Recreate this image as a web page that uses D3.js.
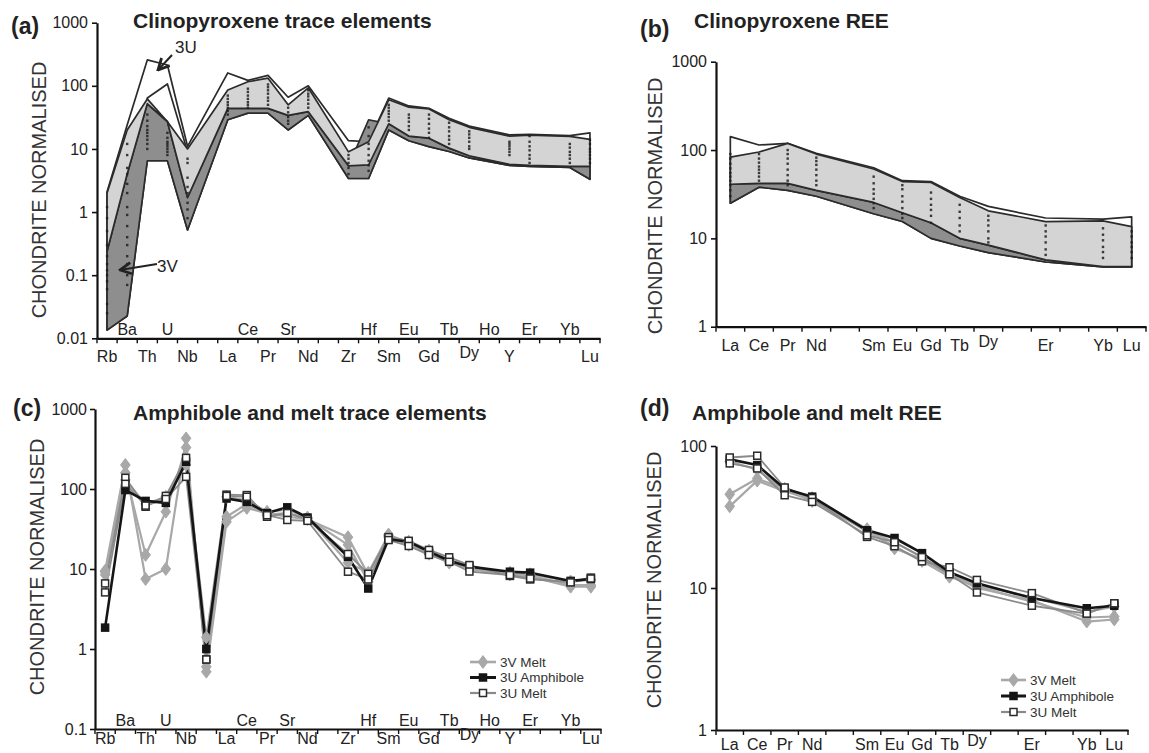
<!DOCTYPE html>
<html><head><meta charset="utf-8">
<script src="https://cdn.jsdelivr.net/npm/d3@7"></script>
<style>
body{margin:0;background:#fff}
svg{display:block}
text{font-family:"Liberation Sans",Arial,Helvetica,sans-serif}
</style>
</head><body>
<svg id="chart" width="1149" height="753"></svg>
<script>
// ---------- categories & tick labels ----------
const teCats = ["Rb","Ba","Th","U","Nb","Ta","La","Ce","Pr","Sr","Nd","P","Zr","Hf","Sm","Eu","Gd","Tb","Dy","Ho","Y","Er","Tm","Yb","Lu"];
const teLow  = ["Rb","Th","Nb","La","Pr","Nd","Zr","Sm","Gd","Dy","Y","Lu"];
const teHigh = ["Ba","U","Ce","Sr","Hf","Eu","Tb","Ho","Er","Yb"];
const reeCats = ["La","Ce","Pr","Nd","Pm","Sm","Eu","Gd","Tb","Dy","Ho","Er","Tm","Yb","Lu"];
const reeLabels = ["La","Ce","Pr","Nd","Sm","Eu","Gd","Tb","Dy","Er","Yb","Lu"];
const yTicksA = [0.01,0.1,1,10,100,1000], yLabA = ["0.01","0.1","1","10","100","1000"];
const yTicksB = [1,10,100,1000], yLabB = ["1","10","100","1000"];
const yTicksC = [0.1,1,10,100,1000], yLabC = ["0.1","1","10","100","1000"];
const yTicksD = [1,10,100], yLabD = ["1","10","100"];

// ---------- panel (a): clinopyroxene trace element envelopes ----------
const aEls      = ["Rb","Ba","Th","U","Nb","La","Ce","Pr","Sr","Nd","Zr","Hf","Sm","Eu","Gd","Tb","Dy","Y","Er","Yb","Lu"];
const aWhiteTop = [2.1, 24, 257, 214, 11, 160, 122, 146, 66, 100, 13.5, 13, 64, 48, 44, 30.5, 23, 16.7, 17, 16.3, 18];
const aLightTop = [2.0, 20, 62, 27, 10, 86, 116, 132, 50, 93, 9, 13, 60, 46, 43, 29, 22, 16, 16.5, 15.8, 14.2];
const aLightBot = [0.24, 4, 52, 27, 1.7, 44, 44, 44, 34, 39, 5.4, 5.6, 25, 16, 14.8, 10.3, 7.8, 5.7, 5.5, 5.3, 5.3];
const aDarkTop  = [0.24, 4, 52, 27, 1.7, 44, 44, 44, 34, 39, 5.4, 29, 25, 16, 14.8, 10.3, 7.8, 5.7, 5.5, 5.3, 5.3];
const aDarkBot  = [0.0135, 0.0225, 6.5, 6.5, 0.52, 29, 37, 37, 20, 34, 3.4, 3.4, 20, 13.5, 10.9, 9.1, 7.2, 5.5, 5.3, 5.1, 3.3];
const aInnerEls = ["Th","U","Nb"];
const aInnerTop = [64, 107, 9];
const aInnerBot = [52, 27, 1.7];
const aDots = [
  [0.025,0.035,0.06,0.08,0.1,0.12,0.15,0.2,0.3,0.5,0.8,1.2],
  [0.07,0.1,0.15,0.2,0.3,0.4,0.6,0.9,1.2,2,2.8,4,5,8,12],
  [10,12,14,16,18,20,23,28,35],
  [8,9,10,11,12,13,15,18],
  [0.8,1.1,1.4,2,2.5,3.5,6,7],
  [35,40,45,50,55,62,70],
  [45,50,55,62,70,80,90],
  [50,58,65,75,85,95,105],
  [25,28,32,38,45],
  [45,52,60,68,75,85],
  [4,5,6,7,8],
  [4.5,5.5,6.5,8,10,12,16,22],
  [28,32,36,40,45,50],
  [20,23,27,31,35],
  [15,18,21,25,30,35],
  [12,14,16,19,22,26],
  [10,11,13,15,17,19],
  [8,9,10,11,12,13],
  [6,7,8,9.5,11,13,16],
  [6,7,8,9,10.5,12],
  [6,7,8,9,10,12,14]
];

// ---------- panel (b): clinopyroxene REE envelopes ----------
const bEls      = ["La","Ce","Pr","Nd","Sm","Eu","Gd","Tb","Dy","Er","Yb","Lu"];
const bWhiteTop = [142, 114, 119, 92, 63, 45, 44, 30, 23, 17, 16.5, 17.5];
const bLightTop = [83, 95, 119, 90, 61, 44, 43, 29, 20.5, 15.5, 15.8, 13.6];
const bLightBot = [41, 42, 42, 35, 25.5, 19.5, 15, 10, 8.4, 5.7, 4.8, 4.8];
const bDarkBot  = [25, 38, 35, 30, 19, 15.5, 10, 8.2, 6.9, 5.4, 4.75, 4.75];
const bDots = [
  [30,35,40,45,50,55,62,70,80,90],
  [45,50,55,60,65,72,80,90],
  [40,45,52,60,70,80,90,100],
  [40,45,52,60,68,75,82],
  [22,25,28,32,36,42,50],
  [17,19,22,26,30,36,40],
  [15,18,21,24,28,33],
  [12,14,17,20,24],
  [9,10,12,14,16,18],
  [6.5,7.5,9,10.5,12,14],
  [6,7,8,9.5,11,13],
  [6,7,8,9,10.5,12]
];

// ---------- panel (c): amphibole & melt trace elements ----------
const cEls = ["Rb","Ba","Th","U","Nb","Ta","La","Ce","Pr","Sr","Nd","Zr","Hf","Sm","Eu","Gd","Tb","Dy","Y","Er","Yb","Lu"];
const c3VMelt1 = [9.5, 200, 7.5, 10, 430, 0.52, 39, 58, 50, 45, 42, 25, 8.5, 27, 21, 16, 12.5, 10, 8.5, 8, 6, 6];
const c3VMelt2 = [8.5, 160, 15, 52, 330, 0.6, 45, 65, 48, 50, 43, 20, 7, 25, 20, 15.5, 12, 10.2, 8.7, 8.2, 6.3, 6.3];
const c3VMelt3 = [9.2, 130, 65, 80, 200, 1.4, 80, 72, 52, 55, 44, 12, 9, 26, 22, 17, 13, 10.5, 9, 8.6, 7, 7.3];
const c3UAmph  = [1.85, 97, 71, 67, 219, 1.0, 76, 69, 50, 59, 44, 14.2, 5.7, 23.5, 21.9, 16.5, 12.7, 10.7, 9.25, 9.0, 7.1, 7.5];
const c3UMelt1 = [6.6, 138, 60, 82, 245, 0.74, 85, 84, 45, 50, 42, 15.4, 8.7, 25, 22.5, 17.3, 14, 11.2, 8.2, 7.4, 6.9, 7.8];
const c3UMelt2 = [5.1, 116, 62, 75, 142, 0.74, 82, 80, 47, 41, 40, 9.25, 7.4, 23, 19.4, 15, 12.3, 9.3, 8.4, 7.6, 6.8, 7.6];

// ---------- panel (d): amphibole & melt REE ----------
const dEls = ["La","Ce","Pr","Nd","Sm","Eu","Gd","Tb","Dy","Er","Yb","Lu"];
const d3VMelt1 = [45.7, 59, 50, 43, 26, 19, 16, 12.5, 10, 8.2, 5.8, 6.0];
const d3VMelt2 = [37.6, 57, 48, 42, 25, 19.5, 15.5, 12, 10.3, 8, 6.2, 6.3];
const d3VMelt3 = [78, 68, 49, 41, 25.5, 21, 16.5, 12.3, 10.5, 8.6, 6.8, 7.4];
const d3UAmph  = [80.5, 73.4, 50, 44, 25.5, 22.5, 17.6, 12.9, 10.8, 8.5, 7.2, 7.5];
const d3UMelt1 = [83, 85.4, 51, 43, 22.9, 19.7, 15.4, 14, 11.4, 9.2, 6.65, 7.8];
const d3UMelt2 = [75.4, 69.5, 45, 40.4, 23.5, 21, 16.5, 12.5, 9.3, 7.5, 6.6, 7.8];

const legendNames = ["3V Melt","3U Amphibole","3U Melt"];

// ---------- styles ----------
const AX = "#111", TXT = "#222";
const WHITE = "#ffffff", LIGHT = "#d4d4d4", DARK = "#8e8e8e", EDGE = "#2b2b2b";
const styles = {
  "3V Melt":      {line:"#a8a8a8", w:2.2, marker:"diamond", fill:"#a8a8a8", stroke:"#a8a8a8"},
  "3U Amphibole": {line:"#151515", w:2.6, marker:"square", fill:"#151515", stroke:"#151515"},
  "3U Melt":      {line:"#8a8a8a", w:1.8, marker:"square", fill:"#ffffff", stroke:"#2a2a2a"}
};

const svg = d3.select("#chart");

// ---------- scales ----------
const xA = d3.scaleBand().domain(teCats).range([97, 600]);
const yA = d3.scaleLog().domain([0.01, 1000]).range([338.3, 22.7]);
const xB = d3.scaleBand().domain(reeCats).range([716, 1146]);
const yB = d3.scaleLog().domain([1, 1000]).range([326.7, 61.7]);
const xC = d3.scaleBand().domain(teCats).range([95, 601]);
const yC = d3.scaleLog().domain([0.1, 1000]).range([729, 409]);
const xD = d3.scaleBand().domain(reeCats).range([716, 1128]);
const yD = d3.scaleLog().domain([1, 100]).range([730, 446]);

function cx(x, c){ return x(c) + x.bandwidth()/2; }

function drawAxes(x, y, ticks, labs, lowLabels, highLabels, opt){
  const g = svg.append("g");
  const x0 = x.range()[0], yb = y.range()[0], bw = x.bandwidth();
  const ya = g.append("g").attr("transform", `translate(${x0},0)`)
    .call(d3.axisLeft(y).tickValues(ticks).tickFormat((d,i)=>labs[i]).tickSize(5).tickSizeOuter(0));
  ya.select(".domain").attr("stroke", AX).attr("stroke-width", 2.2);
  ya.selectAll(".tick line").attr("stroke", AX).attr("stroke-width", 1.6);
  ya.selectAll(".tick text").attr("x", -opt.ylabGap).attr("font-size", 16).attr("fill", TXT)
    .attr("font-family", '"Liberation Sans",Arial,sans-serif');
  const xa = g.append("g").attr("transform", `translate(0,${yb})`)
    .call(d3.axisBottom(x).tickSize(5).tickFormat("").tickSizeOuter(0));
  xa.select(".domain").attr("stroke", AX).attr("stroke-width", 2.2);
  xa.selectAll(".tick line").attr("stroke", AX).attr("stroke-width", 1.4)
    .attr("x1", -bw/2).attr("x2", -bw/2);
  xa.append("line").attr("x1", x.range()[1]).attr("x2", x.range()[1]).attr("y1", 0).attr("y2", 5)
    .attr("stroke", AX).attr("stroke-width", 1.4);
  const lab = (arr, dy) => g.selectAll(null).data(arr).enter().append("text")
    .attr("x", d => cx(x, d)).attr("y", d => yb + dy - (d === "Dy" ? 4 : 0))
    .attr("text-anchor", "middle").attr("font-size", 16).attr("fill", TXT).text(d => d);
  lab(lowLabels, opt.lowDy);
  if (highLabels) lab(highLabels, opt.highDy);
}

function envelope(x, y, els, top, bot, fill){
  const data = els.map((e,i)=>({e, t:top[i], b:bot[i]}));
  const area = d3.area().x(d=>cx(x,d.e)).y0(d=>y(d.b)).y1(d=>y(d.t));
  svg.append("path").datum(data).attr("d", area)
    .attr("fill", fill).attr("stroke", EDGE).attr("stroke-width", 1.7).attr("stroke-linejoin","round");
}

function dots(x, y, els, vals){
  const g = svg.append("g");
  els.forEach((e,i)=>{
    g.selectAll(null).data(vals[i]).enter().append("rect")
      .attr("x", cx(x,e)-1.2).attr("y", d=>y(d)-1.2).attr("width", 2.4).attr("height", 2.4)
      .attr("fill", "#1e1e1e").attr("opacity", 0.85);
  });
}

function marker(g, name, px, py, s){
  const st = styles[name];
  if (st.marker === "diamond"){
    g.append("path").attr("d", `M${px},${py-s*0.8}L${px+s*0.6},${py}L${px},${py+s*0.8}L${px-s*0.6},${py}Z`)
      .attr("fill", st.fill).attr("stroke", st.stroke).attr("stroke-width", 1);
  } else {
    g.append("rect").attr("x", px-s/2).attr("y", py-s/2).attr("width", s).attr("height", s)
      .attr("fill", st.fill).attr("stroke", st.stroke).attr("stroke-width", 1.5);
  }
}

function series(x, y, els, vals, name, drawMarkers){
  const st = styles[name];
  const line = d3.line().x((d,i)=>cx(x, els[i])).y(d=>y(d));
  if (!drawMarkers){
    svg.append("path").datum(vals).attr("d", line).attr("fill","none")
      .attr("stroke", st.line).attr("stroke-width", st.w).attr("stroke-linejoin","round");
  } else {
    const g = svg.append("g");
    vals.forEach((v,i)=>marker(g, name, cx(x, els[i]), y(v), name==="3V Melt" ? 8 : 7));
  }
}

function legend(x1, x2, tx, ys){
  const g = svg.append("g");
  legendNames.forEach((n,i)=>{
    const st = styles[n];
    g.append("line").attr("x1", x1).attr("x2", x2).attr("y1", ys[i]).attr("y2", ys[i])
      .attr("stroke", st.line).attr("stroke-width", st.w + 0.4);
    marker(g, n, (x1+x2)/2, ys[i], n==="3V Melt" ? 8 : 7);
    g.append("text").attr("x", tx).attr("y", ys[i] + 4.5).attr("font-size", 13.5).attr("fill", "#333").text(n);
  });
}

function texts(){
  const t = (x, y, s, size, bold) => svg.append("text").attr("x", x).attr("y", y).attr("font-size", size)
      .attr("font-weight", bold ? "bold" : "normal").attr("fill", TXT).text(s);
  t(11, 34, "(a)", 23, true);
  t(133, 28, "Clinopyroxene trace elements", 21, true);
  t(640, 37, "(b)", 23, true);
  t(694, 28, "Clinopyroxene REE", 21, true);
  t(13, 416, "(c)", 23, true);
  t(133, 420, "Amphibole and melt trace elements", 21, true);
  t(640, 416, "(d)", 23, true);
  t(692, 420, "Amphibole and melt REE", 21, true);
  const yt = (x, y) => svg.append("text").attr("transform", `translate(${x},${y}) rotate(-90)`)
    .attr("text-anchor","middle").attr("font-size", 20).attr("fill", "#333").attr("dy", "0.35em")
    .text("CHONDRITE NORMALISED");
  yt(39, 190); yt(655, 206); yt(37, 567); yt(654, 580);
  t(175, 53, "3U", 17, false);
  t(157, 272, "3V", 17, false);
}

const defs = svg.append("defs");
defs.append("marker").attr("id","arr").attr("viewBox","0 0 10 10").attr("refX",9).attr("refY",5)
  .attr("markerWidth",7).attr("markerHeight",7).attr("orient","auto-start-reverse")
  .append("path").attr("d","M1,1L9,5L1,9").attr("fill","none").attr("stroke","#222").attr("stroke-width",2);

// ---------- panel (a) ----------
envelope(xA, yA, aEls, aWhiteTop, aDarkBot, WHITE);
envelope(xA, yA, aInnerEls, aInnerTop, aInnerBot, WHITE);
envelope(xA, yA, aEls, aDarkTop, aDarkBot, DARK);
envelope(xA, yA, aEls, aLightTop, aLightBot, LIGHT);
dots(xA, yA, aEls, aDots);
drawAxes(xA, yA, yTicksA, yLabA, teLow, teHigh, {ylabGap: 9, lowDy: 24, highDy: -3});

// ---------- panel (b) ----------
envelope(xB, yB, bEls, bWhiteTop, bDarkBot, WHITE);
envelope(xB, yB, bEls, bLightBot, bDarkBot, DARK);
envelope(xB, yB, bEls, bLightTop, bLightBot, LIGHT);
dots(xB, yB, bEls, bDots);
drawAxes(xB, yB, yTicksB, yLabB, reeLabels, null, {ylabGap: 9, lowDy: 24});

// ---------- panel (c) ----------
[c3VMelt1, c3VMelt2, c3VMelt3].forEach(v=>series(xC, yC, cEls, v, "3V Melt", false));
[c3UMelt1, c3UMelt2].forEach(v=>series(xC, yC, cEls, v, "3U Melt", false));
series(xC, yC, cEls, c3UAmph, "3U Amphibole", false);
[c3VMelt1, c3VMelt2, c3VMelt3].forEach(v=>series(xC, yC, cEls, v, "3V Melt", true));
series(xC, yC, cEls, c3UAmph, "3U Amphibole", true);
[c3UMelt1, c3UMelt2].forEach(v=>series(xC, yC, cEls, v, "3U Melt", true));
drawAxes(xC, yC, yTicksC, yLabC, teLow, teHigh, {ylabGap: 8, lowDy: 15, highDy: -3});
legend(470, 496, 500, [662, 677.5, 693]);

// ---------- panel (d) ----------
[d3VMelt1, d3VMelt2, d3VMelt3].forEach(v=>series(xD, yD, dEls, v, "3V Melt", false));
[d3UMelt1, d3UMelt2].forEach(v=>series(xD, yD, dEls, v, "3U Melt", false));
series(xD, yD, dEls, d3UAmph, "3U Amphibole", false);
[d3VMelt1, d3VMelt2, d3VMelt3].forEach(v=>series(xD, yD, dEls, v, "3V Melt", true));
series(xD, yD, dEls, d3UAmph, "3U Amphibole", true);
[d3UMelt1, d3UMelt2].forEach(v=>series(xD, yD, dEls, v, "3U Melt", true));
drawAxes(xD, yD, yTicksD, yLabD, reeLabels, null, {ylabGap: 9, lowDy: 20});
legend(1001, 1026, 1030, [680, 696, 712]);

texts();
svg.append("line").attr("x1",172).attr("y1",55).attr("x2",158).attr("y2",70)
  .attr("stroke","#222").attr("stroke-width",2).attr("marker-end","url(#arr)");
svg.append("line").attr("x1",157).attr("y1",264).attr("x2",120).attr("y2",270)
  .attr("stroke","#222").attr("stroke-width",2).attr("marker-end","url(#arr)");
</script>
</body></html>
